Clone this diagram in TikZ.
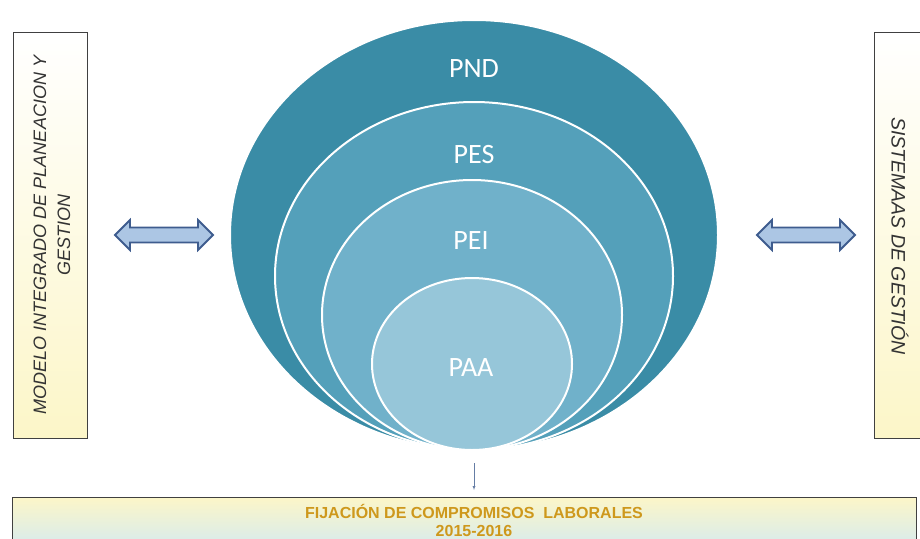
\documentclass[tikz,border=0pt]{standalone}
\usepackage{fontspec}
\setmainfont{Liberation Sans}
\newfontfamily\calibri{Carlito}
\usetikzlibrary{shapes.geometric,shapes.arrows}

\definecolor{tealA}{RGB}{58,140,166}
\definecolor{tealB}{RGB}{84,160,186}
\definecolor{tealC}{RGB}{112,177,202}
\definecolor{tealD}{RGB}{150,198,217}
\definecolor{arrowfill}{RGB}{172,198,228}
\definecolor{arrowline}{RGB}{62,92,142}
\definecolor{paleyellow}{RGB}{252,246,200}
\definecolor{paleblue}{RGB}{205,232,248}
\definecolor{gold}{RGB}{206,152,28}

\begin{document}
\begin{tikzpicture}[x=1pt, y=-1pt]
% Page frame: 920 x 538, one unit = one pixel, y runs downwards
\useasboundingbox (0,0) rectangle (920,538);
\clip (0,0) rectangle (920,538);

% Nested planning levels
% all four ellipses touch at the bottom
\node[ellipse, fill=tealA, draw=white, line width=2pt, inner sep=0pt, minimum width=488, minimum height=430] (pnd) at (474,235) {};
\node[ellipse, fill=tealB, draw=white, line width=2pt, inner sep=0pt, minimum width=398, minimum height=348] (pes) at (474,276) {};
\node[ellipse, fill=tealC, draw=white, line width=2pt, inner sep=0pt, minimum width=300, minimum height=270] (pei) at (472,315) {};
\node[ellipse, fill=tealD, draw=white, line width=2pt, inner sep=0pt, minimum width=200, minimum height=172] (paa) at (472,364) {};

% Level names
\node[draw=none, color=white, font=\calibri\fontsize{28}{32}\selectfont] (pndlabel) at (474,69) {PND};
\node[draw=none, color=white, font=\calibri\fontsize{28}{32}\selectfont] (peslabel) at (474,155) {PES};
\node[draw=none, color=white, font=\calibri\fontsize{28}{32}\selectfont] (peilabel) at (471,241) {PEI};
\node[draw=none, color=white, font=\calibri\fontsize{28}{32}\selectfont] (paalabel) at (471,368) {PAA};

% Side boxes with vertical text
\shade[top color=white, bottom color=paleyellow, draw=black!75, thick] (13,32) rectangle (87,438);
\node[draw=none, rotate=90, align=center, color=black!80, font=\itshape\fontsize{18}{24}\selectfont] (modelo) at (52,235) {MODELO INTEGRADO DE PLANEACION Y\\GESTION};

\shade[top color=white, bottom color=paleyellow, draw=black!75, thick] (874,32) rectangle (930,438);
\node[draw=none, rotate=-90, color=black!80, font=\itshape\fontsize{19.5}{24}\selectfont] (sistemas) at (900,236) {SISTEMAAS DE GESTIÓN};

% Two-way arrows between the boxes and the ellipses
\node[double arrow, double arrow head extend=6pt, fill=arrowfill, draw=arrowline, line width=1.8pt, inner sep=0pt, minimum height=98, minimum width=30, text height=10pt] (leftarrow) at (164,235) {};
\node[double arrow, double arrow head extend=6pt, fill=arrowfill, draw=arrowline, line width=1.8pt, inner sep=0pt, minimum height=98, minimum width=30, text height=10pt] (rightarrow) at (806,235) {};

% Commitments box at the bottom
\shade[top color=paleyellow, bottom color=paleblue, draw=black!75, thick] (12,497) rectangle (916,560);
\node[draw=none, align=center, color=gold, font=\bfseries\fontsize{16}{18}\selectfont] (fijacion) at (474,520) {FIJACIÓN DE COMPROMISOS\ \ LABORALES\\2015-2016};
\coordinate (boxtop) at (474,490);

% Small arrow from the ellipses down to the box
\draw[-latex, color=arrowline!80, thin] ([yshift=-12pt]pnd.south) -- (boxtop);
\end{tikzpicture}
\end{document}
